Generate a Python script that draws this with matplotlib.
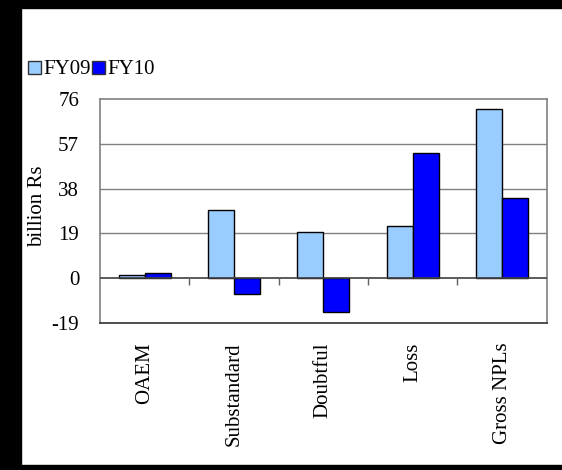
import matplotlib
matplotlib.use('Agg')
from matplotlib import pyplot as plt
from matplotlib.patches import Patch, Rectangle
from matplotlib import markers

categories = ['OAEM', 'Substandard', 'Doubtful', 'Loss', 'Gross NPLs']
fy09 = [1.3, 28.8, 19.6, 22.1, 71.7]
fy10 = [2.1, -6.8, -14.6, 53.2, 33.9]
y_ticks = [-19, 0, 19, 38, 57, 76]
series_names = ['FY09', 'FY10']

light_blue = '#99ccff'
dark_blue = '#0000ff'

plt.rcParams['font.family'] = ['Liberation Serif', 'DejaVu Serif']
plt.rcParams['font.size'] = 15

fig = plt.figure(figsize=(5.62, 4.70), dpi=100)
ax = fig.add_axes([100 / 562, 1 - 322.7 / 470, 446.7 / 562, 223.4 / 470])

x = list(range(len(categories)))
w = 0.29
ax.bar([i - w / 2 for i in x], fy09, width=w, color=light_blue, edgecolor='black', linewidth=1, zorder=3)
ax.bar([i + w / 2 for i in x], fy10, width=w, color=dark_blue, edgecolor='black', linewidth=1, zorder=3)

ax.set_xlim(-0.5, len(categories) - 0.5)
ax.set_ylim(-19, 76)
ax.set_yticks(y_ticks)
ax.set_yticklabels([str(v) for v in y_ticks])
ax.tick_params(axis='y', length=0, pad=15)

ax.set_xticks(x)
ax.set_xticklabels(categories, rotation=90, va='top', ha='center')
ax.tick_params(axis='x', length=0, pad=14)

# gridlines and zero line
for v in y_ticks[2:-1]:
    ax.axhline(v, color='#808080', linewidth=1, zorder=1)
ax.axhline(0, color='#404040', linewidth=1.2, zorder=4)
bounds = [i + 0.5 for i in x[:-1]]
ax.plot(bounds, [0] * len(bounds), linestyle='none', marker=markers.TICKDOWN,
        markersize=5, color='#606060', markeredgewidth=1, zorder=4)

for side in ['top', 'right', 'left']:
    ax.spines[side].set_color('#808080')
    ax.spines[side].set_linewidth(1.2)
ax.spines['bottom'].set_color('#303030')
ax.spines['bottom'].set_linewidth(1.2)

ax.set_ylabel('billion Rs', va='center')
ax.yaxis.set_label_coords((38 - 100) / 446.7, (322.7 - 206) / 223.4)

handles = [Patch(facecolor=light_blue, edgecolor='#333333', linewidth=1),
           Patch(facecolor=dark_blue, edgecolor='#333333', linewidth=1)]
fig.legend(handles, series_names, loc='center left', bbox_to_anchor=(28 / 562, 1 - 70 / 470),
           ncol=2, frameon=False, handlelength=0.6, handleheight=0.6, handletextpad=0.15,
           columnspacing=0.05, borderpad=0, borderaxespad=0)

# black frame from the scanned page
fig.patches.append(Rectangle((0, 0), 21 / 562, 1, transform=fig.transFigure, color='black', zorder=10))
fig.patches.append(Rectangle((0, 1 - 8 / 470), 1, 8 / 470, transform=fig.transFigure, color='black', zorder=10))
fig.patches.append(Rectangle((0, 0), 1, 5 / 470, transform=fig.transFigure, color='black', zorder=10))

fig.savefig('out.png', dpi=100)
